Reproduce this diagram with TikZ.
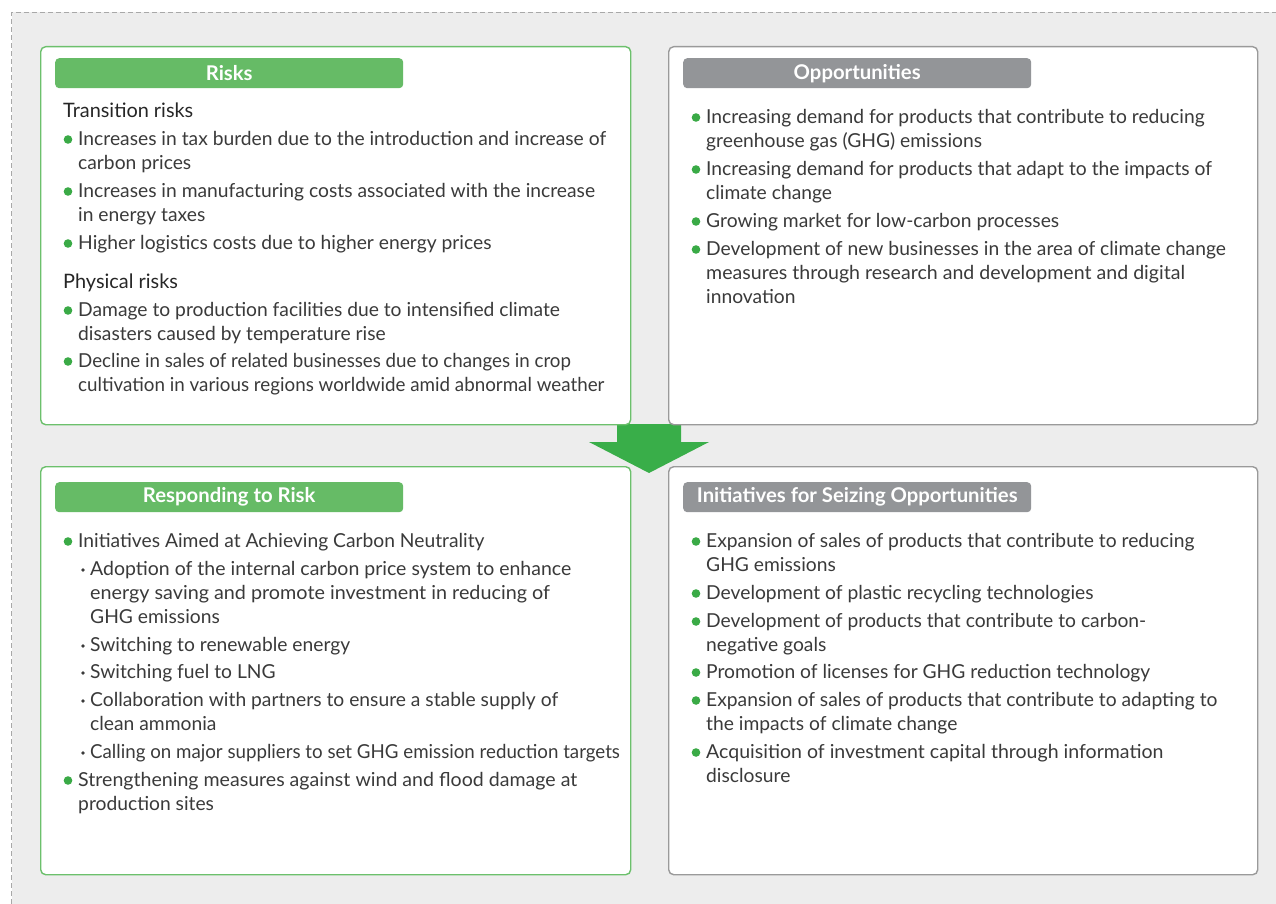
\documentclass[tikz,border=0pt]{standalone}
\usepackage{fontspec}
\setmainfont{Lato}
\newcommand\hsq[2]{\scalebox{#1}[1]{#2}}
\begin{document}
\definecolor{bgc}{HTML}{EDEDED}
\definecolor{gline}{HTML}{6CC06C}
\definecolor{gbar}{HTML}{66BB66}
\definecolor{greyline}{HTML}{9A9A9A}
\definecolor{greybar}{HTML}{939598}
\definecolor{arrowg}{HTML}{39AE49}
\definecolor{dotg}{HTML}{3AAA46}
\definecolor{txtc}{HTML}{3A3A3A}
\definecolor{dashc}{HTML}{A8A8A8}
\begin{tikzpicture}[x=1pt,y=-1pt,
  txt/.style={anchor=base west,inner sep=0pt,text=txtc,font=\fontsize{19.25}{22}\selectfont},
  subhead/.style={anchor=base west,inner sep=0pt,text=black!85,font=\fontsize{19.9}{22}\selectfont},
  hdr/.style={text=white,font=\fontsize{20.3}{22}\selectfont\bfseries,inner sep=0pt},
  gbox/.style={draw=gline,line width=1.4pt,fill=white,rounded corners=5pt},
  ybox/.style={draw=greyline,line width=1.4pt,fill=white,rounded corners=5pt},
  gbarst/.style={fill=gbar,rounded corners=4pt},
  ybarst/.style={fill=greybar,rounded corners=4pt},
  gdot/.style={fill=dotg},
  sdot/.style={fill=txtc}]
\useasboundingbox (0,0) rectangle (1276,904);
% background
\fill[bgc] (11.5,12.5) rectangle (1276,904);
\draw[dashc,line width=1pt,dash pattern=on 5pt off 3pt] (11.5,904) -- (11.5,12.5) -- (1276,12.5);
% arrow
\fill[arrowg] (617,424) -- (681,424) -- (681,442) -- (709,442) -- (649,473) -- (589,442) -- (617,442) -- cycle;
% boxes
\node[gbox,minimum width=590pt,minimum height=378pt,anchor=north west] (risks) at (40,46) {};
\node[ybox,minimum width=589pt,minimum height=378pt,anchor=north west] (opps) at (668,46) {};
\node[gbox,minimum width=590pt,minimum height=408pt,anchor=north west] (resp) at (40,466) {};
\node[ybox,minimum width=589pt,minimum height=408pt,anchor=north west] (init) at (668,466) {};
% header bars
\node[gbarst,minimum width=348pt,minimum height=30pt,anchor=north west] (hb1) at (55,58) {};
\node[hdr] (h1) at (hb1.center) {Risks};
\node[ybarst,minimum width=348pt,minimum height=30pt,anchor=north west] (hb2) at (683,58) {};
\node[hdr] (h2) at (hb2.center) {Opportunities};
\node[gbarst,minimum width=348pt,minimum height=30pt,anchor=north west] (hb3) at (55,482) {};
\node[hdr] (h3) at (hb3.center) {Responding to Risk};
\node[ybarst,minimum width=348pt,minimum height=30pt,anchor=north west] (hb4) at (683,482) {};
\node[hdr] (h4) at (hb4.center) {Initiatives for Seizing Opportunities};
\begin{scope}[shift={(0,1.5)}]
% Risks
\node[subhead] (rt) at (63,116) {Transition risks};
\fill[gdot] (68,138) circle (4.3);
\node[txt] (r1a) at (78,144) {Increases in tax burden due to the introduction and increase of};
\node[txt] (r1b) at (78,168) {carbon prices};
\fill[gdot] (68,190) circle (4.3);
\node[txt] (r2a) at (78,196) {Increases in manufacturing costs associated with the increase};
\node[txt] (r2b) at (78,220) {in energy taxes};
\fill[gdot] (68,242) circle (4.3);
\node[txt] (r3a) at (78,248) {Higher logistics costs due to higher energy prices};
\node[subhead] (rp) at (63,287) {Physical risks};
\fill[gdot] (68,309) circle (4.3);
\node[txt] (r4a) at (78,315) {Damage to production facilities due to intensified climate};
\node[txt] (r4b) at (78,339) {disasters caused by temperature rise};
\fill[gdot] (68,360) circle (4.3);
\node[txt] (r5a) at (78,366) {\hsq{0.972}{Decline in sales of related businesses due to changes in crop}};
\node[txt] (r5b) at (78,390) {\hsq{0.976}{cultivation in various regions worldwide amid abnormal weather}};
% Opportunities
\fill[gdot] (696,116) circle (4.3);
\node[txt] (o1a) at (706,122) {Increasing demand for products that contribute to reducing};
\node[txt] (o1b) at (706,146) {greenhouse gas (GHG) emissions};
\fill[gdot] (696,168) circle (4.3);
\node[txt] (o2a) at (706,174) {Increasing demand for products that adapt to the impacts of};
\node[txt] (o2b) at (706,198) {climate change};
\fill[gdot] (696,220) circle (4.3);
\node[txt] (o3a) at (706,226) {Growing market for low-carbon processes};
\fill[gdot] (696,248) circle (4.3);
\node[txt] (o4a) at (706,254) {Development of new businesses in the area of climate change};
\node[txt] (o4b) at (706,278) {\hsq{1.017}{measures through research and development and digital}};
\node[txt] (o4c) at (706,302) {innovation};
% Responding to risk
\fill[gdot] (68,540) circle (4.3);
\node[txt] (s1a) at (78,546) {Initiatives Aimed at Achieving Carbon Neutrality};
\fill[sdot] (83,568.5) circle (1.8);
\node[txt] (s2a) at (90,574) {\hsq{1.012}{Adoption of the internal carbon price system to enhance}};
\node[txt] (s2b) at (90,598) {\hsq{1.027}{energy saving and promote investment in reducing of}};
\node[txt] (s2c) at (90,622) {GHG emissions};
\fill[sdot] (83,644.5) circle (1.8);
\node[txt] (s3a) at (90,650) {Switching to renewable energy};
\fill[sdot] (83,671.5) circle (1.8);
\node[txt] (s4a) at (90,677) {Switching fuel to LNG};
\fill[sdot] (83,699.5) circle (1.8);
\node[txt] (s5a) at (90,705) {Collaboration with partners to ensure a stable supply of};
\node[txt] (s5b) at (90,729) {clean ammonia};
\fill[sdot] (83,751.5) circle (1.8);
\node[txt] (s6a) at (90,757) {\hsq{0.972}{Calling on major suppliers to set GHG emission reduction targets}};
\fill[gdot] (68,779) circle (4.3);
\node[txt] (s7a) at (78,785) {\hsq{1.017}{Strengthening measures against wind and flood damage at}};
\node[txt] (s7b) at (78,809) {production sites};
% Initiatives
\fill[gdot] (696,540) circle (4.3);
\node[txt] (i1a) at (706,546) {Expansion of sales of products that contribute to reducing};
\node[txt] (i1b) at (706,570) {GHG emissions};
\fill[gdot] (696,592) circle (4.3);
\node[txt] (i2a) at (706,598) {Development of plastic recycling technologies};
\fill[gdot] (696,620) circle (4.3);
\node[txt] (i3a) at (706,626) {Development of products that contribute to carbon-};
\node[txt] (i3b) at (706,650) {negative goals};
\fill[gdot] (696,671) circle (4.3);
\node[txt] (i4a) at (706,677) {Promotion of licenses for GHG reduction technology};
\fill[gdot] (696,699) circle (4.3);
\node[txt] (i5a) at (706,705) {Expansion of sales of products that contribute to adapting to};
\node[txt] (i5b) at (706,729) {the impacts of climate change};
\fill[gdot] (696,751) circle (4.3);
\node[txt] (i6a) at (706,757) {\hsq{1.015}{Acquisition of investment capital through information}};
\node[txt] (i6b) at (706,781) {disclosure};
\end{scope}
\end{tikzpicture}
\end{document}
